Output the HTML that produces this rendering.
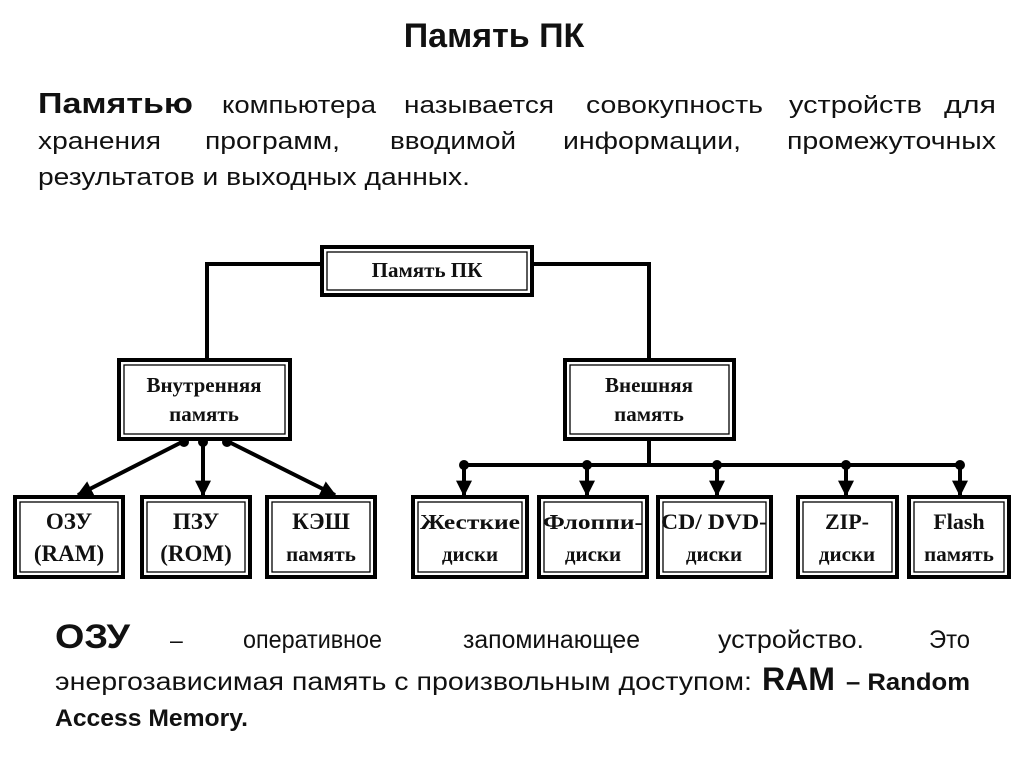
<!DOCTYPE html>
<html><head><meta charset="utf-8"><style>
html,body{margin:0;padding:0;background:#fff;}
svg{display:block;}
.s{font-family:"Liberation Sans",sans-serif;}
.r{font-family:"Liberation Serif",serif;font-weight:bold;font-size:21px;text-anchor:middle;}
</style></head><body>
<svg width="1024" height="767" viewBox="0 0 1024 767" xmlns="http://www.w3.org/2000/svg">
<defs>
<marker id="a" viewBox="0 0 10 10" refX="9" refY="5" markerWidth="4" markerHeight="4" orient="auto"><path d="M0,0 L10,5 L0,10 z" fill="#000"/></marker>
</defs>
<text class="s" x="494" y="47" font-size="34" font-weight="bold" text-anchor="middle" fill="#111">Память ПК</text>
<g class="s" font-size="24" fill="#111" lengthAdjust="spacingAndGlyphs">
<text x="38" y="113" font-size="29" font-weight="bold" textLength="155" lengthAdjust="spacingAndGlyphs">Памятью</text>
<text x="222" y="113" textLength="154" lengthAdjust="spacingAndGlyphs">компьютера</text>
<text x="404" y="113" textLength="150" lengthAdjust="spacingAndGlyphs">называется</text>
<text x="586" y="113" textLength="177" lengthAdjust="spacingAndGlyphs">совокупность</text>
<text x="789" y="113" textLength="133" lengthAdjust="spacingAndGlyphs">устройств</text>
<text x="944" y="113" textLength="52" lengthAdjust="spacingAndGlyphs">для</text>
<text x="38" y="149" textLength="123" lengthAdjust="spacingAndGlyphs">хранения</text>
<text x="205" y="149" textLength="135" lengthAdjust="spacingAndGlyphs">программ,</text>
<text x="390" y="149" textLength="126" lengthAdjust="spacingAndGlyphs">вводимой</text>
<text x="563" y="149" textLength="178" lengthAdjust="spacingAndGlyphs">информации,</text>
<text x="787" y="149" textLength="209" lengthAdjust="spacingAndGlyphs">промежуточных</text>
<text x="38" y="185" textLength="432" lengthAdjust="spacingAndGlyphs">результатов и выходных данных.</text>
</g>

<g fill="none" stroke="#000">
<g stroke-width="4">
<rect x="322" y="247" width="210" height="48"/>
<rect x="119" y="360" width="171" height="79"/>
<rect x="565" y="360" width="169" height="79"/>
<rect x="15" y="497" width="108" height="80"/>
<rect x="142" y="497" width="108" height="80"/>
<rect x="267" y="497" width="108" height="80"/>
<rect x="413" y="497" width="114" height="80"/>
<rect x="539" y="497" width="108" height="80"/>
<rect x="658" y="497" width="113" height="80"/>
<rect x="798" y="497" width="99" height="80"/>
<rect x="909" y="497" width="100" height="80"/>
</g>
<g stroke-width="1.3">
<rect x="327" y="252" width="200" height="38"/>
<rect x="124" y="365" width="161" height="69"/>
<rect x="570" y="365" width="159" height="69"/>
<rect x="20" y="502" width="98" height="70"/>
<rect x="147" y="502" width="98" height="70"/>
<rect x="272" y="502" width="98" height="70"/>
<rect x="418" y="502" width="104" height="70"/>
<rect x="544" y="502" width="98" height="70"/>
<rect x="663" y="502" width="103" height="70"/>
<rect x="803" y="502" width="89" height="70"/>
<rect x="914" y="502" width="90" height="70"/>
</g>
<g stroke-width="4">
<polyline points="320,264 207,264 207,358"/>
<polyline points="534,264 649,264 649,358"/>
<line x1="649" y1="441" x2="649" y2="465"/>
<line x1="464" y1="465" x2="960" y2="465"/>
<line x1="184" y1="441" x2="78" y2="495" marker-end="url(#a)"/>
<line x1="203" y1="441" x2="203" y2="495" marker-end="url(#a)"/>
<line x1="227" y1="441" x2="335" y2="495" marker-end="url(#a)"/>
<line x1="464" y1="465" x2="464" y2="495" marker-end="url(#a)"/>
<line x1="587" y1="465" x2="587" y2="495" marker-end="url(#a)"/>
<line x1="717" y1="465" x2="717" y2="495" marker-end="url(#a)"/>
<line x1="846" y1="465" x2="846" y2="495" marker-end="url(#a)"/>
<line x1="960" y1="465" x2="960" y2="495" marker-end="url(#a)"/>
</g>
</g>
<g fill="#000">
<circle cx="184" cy="442" r="5"/><circle cx="203" cy="442" r="5"/><circle cx="227" cy="442" r="5"/>
<circle cx="464" cy="465" r="5"/><circle cx="587" cy="465" r="5"/><circle cx="717" cy="465" r="5"/><circle cx="846" cy="465" r="5"/><circle cx="960" cy="465" r="5"/>
</g>
<g class="r" fill="#111">
<text x="427" y="277">Память ПК</text>
<text x="204" y="392">Внутренняя</text><text x="204" y="421">память</text>
<text x="649" y="392">Внешняя</text><text x="649" y="421">память</text>
<text x="69" y="529" font-size="23">ОЗУ</text><text x="69" y="561" font-size="23">(RAM)</text>
<text x="196" y="529" font-size="23">ПЗУ</text><text x="196" y="561" font-size="23">(ROM)</text>
<text x="321" y="529" font-size="23">КЭШ</text><text x="321" y="561">память</text>
<text x="470" y="529" textLength="100" lengthAdjust="spacingAndGlyphs">Жесткие</text><text x="470" y="561">диски</text>
<text x="593" y="529" textLength="100" lengthAdjust="spacingAndGlyphs">Флоппи-</text><text x="593" y="561">диски</text>
<text x="714" y="529" font-size="22" textLength="106" lengthAdjust="spacingAndGlyphs">CD/ DVD-</text><text x="714" y="561">диски</text>
<text x="847" y="529" font-size="22">ZIP-</text><text x="847" y="561">диски</text>
<text x="959" y="529" font-size="22">Flash</text><text x="959" y="561">память</text>
</g>

<g class="s" fill="#111">
<text x="55" y="648" font-size="34" font-weight="bold" textLength="75" lengthAdjust="spacingAndGlyphs">ОЗУ</text>
<text x="170" y="648" font-size="23">–</text>
<text x="243" y="648" font-size="25" textLength="139" lengthAdjust="spacingAndGlyphs">оперативное</text>
<text x="463" y="648" font-size="25" textLength="177" lengthAdjust="spacingAndGlyphs">запоминающее</text>
<text x="718" y="648" font-size="25" textLength="146" lengthAdjust="spacingAndGlyphs">устройство.</text>
<text x="929" y="648" font-size="25" textLength="41" lengthAdjust="spacingAndGlyphs">Это</text>
<text x="55" y="690" font-size="25" textLength="697" lengthAdjust="spacingAndGlyphs">энергозависимая память с произвольным доступом:</text>
<text x="762" y="690" font-size="32" font-weight="bold" textLength="73" lengthAdjust="spacingAndGlyphs">RAM</text>
<text x="846" y="690" font-size="24" font-weight="bold" textLength="124" lengthAdjust="spacingAndGlyphs">– Random</text>
<text x="55" y="726" font-size="24" font-weight="bold" textLength="193" lengthAdjust="spacingAndGlyphs">Access Memory.</text>
</g>
</svg>
</body></html>
